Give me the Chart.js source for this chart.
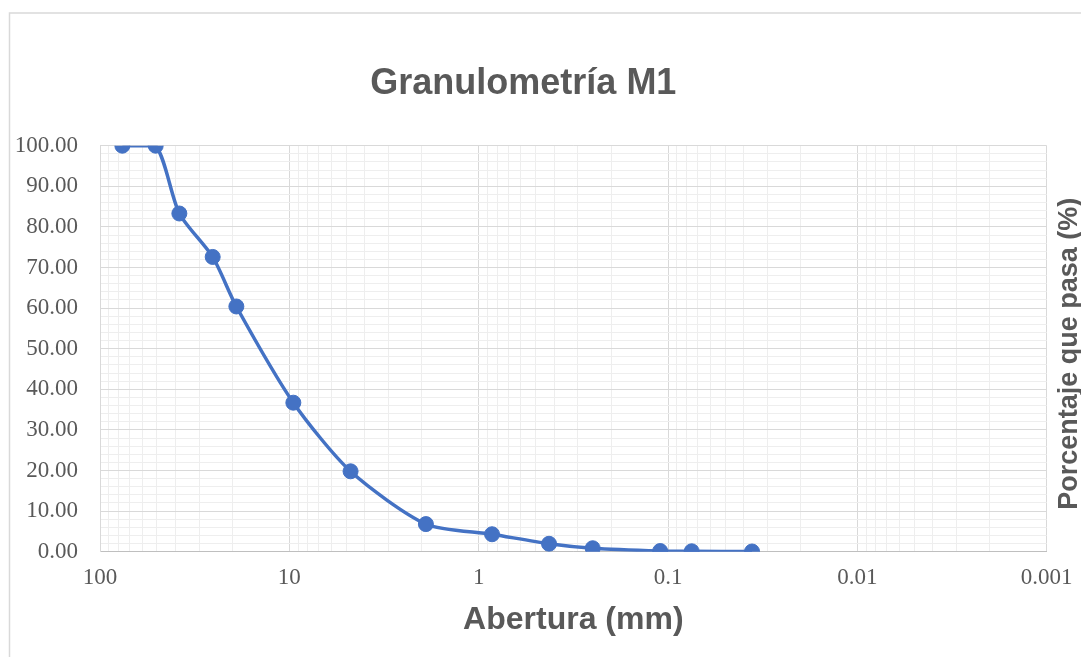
<!DOCTYPE html>
<html>
<head>
<meta charset="utf-8">
<title>Granulometría M1</title>
<script src="https://cdn.jsdelivr.net/npm/chart.js@4.4.1/dist/chart.umd.min.js"></script>
<style>
  body { margin: 0; background: #ffffff; }
  #granuloChart { display: block; }
</style>
</head>
<body>
<canvas id="granuloChart" width="1081" height="657"></canvas>
<script>
// datos
const aberturas = [76.2, 50.8, 38.1, 25.4, 19.05, 9.525, 4.75, 1.9, 0.85, 0.425, 0.25, 0.11, 0.075, 0.036];
const porcentajePasa = [100, 100, 83.3, 72.6, 60.4, 36.7, 19.8, 6.8, 4.3, 1.95, 0.85, 0.17, 0.1, 0.05];

const xTickValues = [100, 10, 1, 0.1, 0.01, 0.001];
const xTickLabels = ['100', '10', '1', '0.1', '0.01', '0.001'];
const yTickValues = [0, 10, 20, 30, 40, 50, 60, 70, 80, 90, 100];
const yTickLabels = ['0.00', '10.00', '20.00', '30.00', '40.00', '50.00', '60.00', '70.00', '80.00', '90.00', '100.00'];

const tituloGrafico = 'Granulometría M1';
const tituloX = 'Abertura (mm)';
const tituloY = 'Porcentaje que pasa (%)';

const textColor = '#595959';
const majorGrid = '#d9d9d9';
const minorGrid = '#eeeeee';

// lineas de la grilla logaritmica (1..9 por decada)
let xGridValues = [];
for (let e = -3; e <= 1; e++) {
    for (let m = 1; m <= 9; m++) {
        xGridValues.push(parseFloat((m * Math.pow(10, e)).toPrecision(6)));
    }
}
xGridValues.push(100);

let yGridValues = [];
for (let v = 0; v <= 100; v += 2) {
    yGridValues.push(v);
}

function isDecade(v) {
    let l = Math.log10(v);
    return Math.abs(l - Math.round(l)) < 1e-9;
}

let puntos = [];
for (let i in aberturas) {
    puntos.push({ x: aberturas[i], y: porcentajePasa[i] });
}

const fondoPlugin = {
    id: 'fondo',
    beforeDraw(chart) {
        const ctx = chart.ctx;
        ctx.save();
        ctx.fillStyle = '#ffffff';
        ctx.fillRect(0, 0, chart.width, chart.height);
        ctx.strokeStyle = '#d9d9d9';
        ctx.lineWidth = 1.5;
        ctx.strokeRect(9.5, 13, chart.width + 20, chart.height + 20);
        ctx.restore();
    }
};

const tituloDerechaPlugin = {
    id: 'tituloDerecha',
    afterDraw(chart) {
        const ctx = chart.ctx;
        const area = chart.chartArea;
        ctx.save();
        ctx.translate(1070, (area.top + area.bottom) / 2 + 5);
        ctx.rotate(-Math.PI / 2);
        ctx.font = 'bold 27px "Liberation Sans", Arial, sans-serif';
        ctx.fillStyle = textColor;
        ctx.textAlign = 'center';
        ctx.textBaseline = 'middle';
        ctx.fillText(tituloY, 0, 0);
        ctx.restore();
    }
};

new Chart(document.getElementById('granuloChart'), {
    type: 'scatter',
    data: {
        datasets: [{
            label: tituloGrafico,
            data: puntos,
            showLine: true,
            tension: 0.25,
            borderColor: '#4472c4',
            backgroundColor: '#4472c4',
            borderWidth: 3.5,
            pointRadius: 7.5,
            pointBorderWidth: 1,
            pointBorderColor: '#4472c4',
            pointBackgroundColor: '#4472c4'
        }]
    },
    options: {
        responsive: false,
        animation: false,
        layout: {
            padding: { left: 0, right: 34.3, top: 0, bottom: 0 }
        },
        plugins: {
            legend: { display: false },
            tooltip: { enabled: false },
            title: {
                display: true,
                text: tituloGrafico,
                color: textColor,
                font: { family: '"Liberation Sans", Arial, sans-serif', size: 36, weight: 'bold', lineHeight: 1.2 },
                padding: { top: 62, bottom: 40.5 }
            }
        },
        scales: {
            x: {
                type: 'logarithmic',
                reverse: true,
                min: 0.001,
                max: 100,
                afterBuildTicks: (scale) => {
                    scale.ticks = xGridValues.map(v => ({ value: v, major: isDecade(v) }));
                },
                afterFit: (scale) => {
                    scale.height = 657 - 551.7;
                },
                ticks: {
                    autoSkip: false,
                    maxRotation: 0,
                    padding: 12.8,
                    color: textColor,
                    font: { family: '"Liberation Serif", "Times New Roman", serif', size: 23 },
                    callback: (value) => {
                        let idx = xTickValues.findIndex(t => Math.abs(t - value) < value * 1e-6);
                        return idx >= 0 ? xTickLabels[idx] : '';
                    }
                },
                grid: {
                    drawTicks: false,
                    color: (ctx) => (ctx.tick && isDecade(ctx.tick.value)) ? majorGrid : minorGrid,
                    lineWidth: 1
                },
                border: { display: true, color: '#bfbfbf', width: 1 },
                title: {
                    display: true,
                    text: tituloX,
                    color: textColor,
                    font: { family: '"Liberation Sans", Arial, sans-serif', size: 32, weight: 'bold', lineHeight: 1.2 },
                    padding: { top: 0, bottom: 17.8 }
                }
            },
            y: {
                type: 'linear',
                min: 0,
                max: 100,
                afterBuildTicks: (scale) => {
                    scale.ticks = yGridValues.map(v => ({ value: v }));
                },
                afterFit: (scale) => {
                    scale.width = 100;
                },
                ticks: {
                    autoSkip: false,
                    padding: 22,
                    color: textColor,
                    font: { family: '"Liberation Serif", "Times New Roman", serif', size: 23 },
                    callback: (value) => {
                        let idx = yTickValues.indexOf(value);
                        return idx >= 0 ? yTickLabels[idx] : '';
                    }
                },
                grid: {
                    drawTicks: false,
                    color: (ctx) => (ctx.tick && ctx.tick.value % 10 === 0) ? majorGrid : minorGrid,
                    lineWidth: 1
                },
                border: { display: true, color: majorGrid, width: 1 }
            }
        }
    },
    plugins: [fondoPlugin, tituloDerechaPlugin]
});
</script>
</body>
</html>
